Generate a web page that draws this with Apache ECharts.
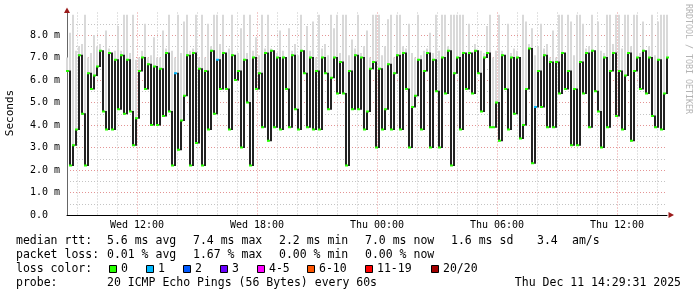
<!DOCTYPE html>
<html><head><meta charset="utf-8">
<script src="https://cdn.jsdelivr.net/npm/echarts@6/dist/echarts.min.js"></script>
<style>html,body{margin:0;padding:0;background:#fff}#c{width:697px;height:297px}</style>
</head><body><div id="c"></div>
<script>
// ---- data ----
const xTickLabels = ['Wed 12:00', 'Wed 18:00', 'Thu 00:00', 'Thu 06:00', 'Thu 12:00'];
const yTickLabels = ['0.0  ', '1.0 m', '2.0 m', '3.0 m', '4.0 m', '5.0 m', '6.0 m', '7.0 m', '8.0 m'];
const stepMinutes = 9;           // one sample per 9 minutes, starting Wed 08:30
const startMinute = 8 * 60 + 30;
const spanMinutes = 1800;        // Wed 08:30 .. Thu 14:30

const median = [
  6.4, 2.2, 3.1, 3.8, 7.1, 4.5, 2.2, 6.3, 5.6, 6.2,
  6.6, 7.3, 4.6, 3.8, 7.2, 3.8, 6.9, 4.7, 7.1, 4.5,
  6.9, 4.6, 3.1, 4.3, 6.4, 7.0, 5.6, 6.7, 4.0, 6.6,
  4.0, 6.5, 4.4, 7.2, 4.6, 2.2, 6.3, 2.9, 4.2, 5.3,
  7.1, 2.2, 7.2, 3.2, 6.5, 2.2, 6.4, 3.8, 7.3, 4.5,
  6.9, 5.6, 7.2, 5.6, 3.8, 7.1, 6.0, 6.4, 3.0, 6.9,
  5.0, 2.2, 7.0, 5.6, 6.3, 3.9, 7.2, 3.3, 7.3, 3.9,
  7.0, 3.8, 7.0, 5.6, 3.9, 7.1, 4.7, 3.8, 7.3, 6.3,
  3.9, 7.0, 3.8, 6.4, 3.8, 7.0, 6.3, 4.7, 6.1, 7.0,
  5.4, 6.8, 5.4, 2.2, 6.4, 4.7, 7.1, 4.7, 7.0, 3.8,
  4.6, 6.5, 6.8, 3.0, 6.5, 3.8, 4.7, 6.7, 3.8, 6.3,
  7.1, 3.8, 7.2, 5.6, 3.0, 4.8, 5.3, 6.9, 3.8, 6.4,
  7.2, 3.0, 6.9, 5.5, 3.0, 7.0, 5.4, 7.3, 2.2, 6.3,
  7.0, 3.8, 7.2, 5.6, 7.2, 5.4, 7.3, 6.3, 4.6, 7.0,
  7.2, 3.9, 3.9, 5.0, 3.3, 7.1, 5.6, 3.8, 7.0, 4.5,
  7.0, 3.4, 4.0, 5.6, 7.4, 2.3, 4.8, 6.4, 4.8, 7.1,
  3.9, 6.8, 3.9, 6.8, 5.4, 7.2, 5.6, 6.4, 3.1, 5.6,
  3.1, 6.8, 5.4, 7.2, 3.9, 7.3, 5.5, 4.6, 3.0, 7.0,
  3.9, 6.4, 7.2, 4.4, 6.4, 3.8, 6.2, 7.2, 3.3, 6.4,
  7.0, 5.6, 7.3, 5.4, 7.0, 4.4, 3.9, 6.9, 3.8, 5.4,
  7.0
];

const smokeMax = [
  7.0, 8.1, 8.9, 7.3, 7.5, 7.6, 8.9, 7.0, 7.2, 8.0,
  7.5, 7.6, 7.0, 8.2, 7.4, 7.2, 7.3, 8.4, 7.3, 8.9,
  8.9, 7.2, 8.9, 6.9, 7.0, 7.3, 8.5, 7.0, 7.1, 7.9,
  7.0, 7.0, 8.2, 7.4, 8.9, 7.3, 7.0, 8.9, 7.2, 8.6,
  8.9, 7.3, 7.4, 8.9, 7.0, 8.9, 7.0, 8.5, 7.5, 8.9,
  8.9, 7.6, 8.9, 7.2, 7.4, 8.9, 7.0, 7.2, 8.3, 8.9,
  7.2, 8.9, 7.3, 7.9, 7.1, 8.9, 7.4, 8.9, 7.4, 7.1,
  7.2, 8.2, 7.3, 7.0, 8.3, 7.3, 7.6, 7.1, 8.9, 7.2,
  8.4, 7.3, 8.6, 7.0, 8.9, 7.4, 7.6, 7.1, 8.9, 8.3,
  8.9, 7.2, 8.9, 8.9, 7.1, 7.8, 7.4, 8.9, 7.2, 7.5,
  8.2, 7.0, 8.9, 8.9, 8.9, 7.1, 7.5, 8.7, 8.9, 7.0,
  8.9, 8.9, 7.5, 7.4, 8.5, 7.2, 7.0, 8.9, 7.1, 7.3,
  7.4, 8.1, 7.2, 8.9, 7.3, 8.9, 8.9, 7.5, 8.9, 8.9,
  8.9, 8.9, 8.9, 7.2, 8.5, 7.1, 7.6, 7.0, 7.3, 7.2,
  8.4, 8.9, 7.0, 7.3, 8.9, 7.3, 7.0, 8.5, 7.2, 7.4,
  7.3, 7.0, 8.9, 8.6, 7.6, 8.3, 7.1, 7.5, 8.5, 7.4,
  7.6, 7.0, 8.2, 7.0, 8.9, 8.9, 7.0, 8.9, 8.6, 7.1,
  8.9, 8.9, 8.5, 7.4, 7.5, 8.9, 7.0, 8.6, 7.3, 7.2,
  8.9, 8.9, 7.6, 8.9, 8.9, 7.4, 8.9, 8.9, 7.5, 8.9,
  8.9, 7.2, 8.6, 7.0, 7.5, 8.9, 7.1, 8.6, 8.9, 8.9,
  8.9
];

const loss1Points = [36, 50, 156];

const statsRow1 = [['median rtt:', 16], ['5.6 ms avg', 107], ['7.4 ms max', 193], ['2.2 ms min', 279], ['7.0 ms now', 365], ['1.6 ms sd', 451], ['3.4', 537], ['am/s', 572]];
const statsRow2 = [['packet loss:', 16], ['0.01 % avg', 107], ['1.67 % max', 193], ['0.00 % min', 279], ['0.00 % now', 365]];
const lossLabels = ['0', '1', '2', '3', '4-5', '6-10', '11-19', '20/20'];
const lossColors = ['#26ff00', '#00b8ff', '#0059ff', '#6a00ff', '#ff00ff', '#ff5500', '#ff0000', '#a10000'];
const lossBoxX = [109, 146, 183, 220, 257, 307, 365, 431];
const probeText = '20 ICMP Echo Pings (56 Bytes) every 60s';
const dateText = 'Thu Dec 11 14:29:31 2025';

// ---- build ----
const FONT = "'DejaVu Sans Mono', monospace";
const gridCats = [];
for (let m = startMinute; m <= startMinute + spanMinutes; m += 30) {
  const day = m >= 1440 ? 'Thu' : 'Wed';
  const mm = m % 1440;
  const hh = String(Math.floor(mm / 60)).padStart(2, '0');
  const mi = String(mm % 60).padStart(2, '0');
  gridCats.push(day + ' ' + hh + ':' + mi);
}
const isMajor = (i, v) => xTickLabels.indexOf(v) >= 0;
const isMinor = (i, v) => v.endsWith(':00') && xTickLabels.indexOf(v) < 0;

const pts = median.map((m, i) => [i * stepMinutes, m, smokeMax[i], i > 0 ? median[i - 1] : m]);

const graphic = [];
graphic.push({ type: 'polygon', shape: { points: [[67, 7.5], [64, 13], [70, 13]] }, style: { fill: '#9b1b1b' }, z: 10 });
graphic.push({ type: 'polygon', shape: { points: [[674, 215], [668.5, 212], [668.5, 218]] }, style: { fill: '#9b1b1b' }, z: 10 });
graphic.push({ type: 'text', x: 10, y: 113, rotation: Math.PI / 2,
  style: { text: 'Seconds', font: "11px " + FONT, fill: '#000', textAlign: 'center', textVerticalAlign: 'middle' } });
graphic.push({ type: 'text', x: 688, y: 4, rotation: -Math.PI / 2,
  style: { text: 'RRDTOOL / TOBI OETIKER', font: "8.3px " + FONT, fill: '#b4b4b4', textAlign: 'left', textVerticalAlign: 'middle' } });
const legFont = "11.5px " + FONT;
statsRow1.forEach(([t, x]) => graphic.push({ type: 'text', x: x, y: 241, style: { text: t, font: legFont, fill: '#000', textVerticalAlign: 'middle' } }));
statsRow2.forEach(([t, x]) => graphic.push({ type: 'text', x: x, y: 255, style: { text: t, font: legFont, fill: '#000', textVerticalAlign: 'middle' } }));
graphic.push({ type: 'text', x: 16, y: 269, style: { text: 'loss color:', font: legFont, fill: '#000', textVerticalAlign: 'middle' } });
lossLabels.forEach((lab, k) => {
  graphic.push({ type: 'rect', shape: { x: lossBoxX[k] + 0.5, y: 265.5, width: 7, height: 7 }, style: { fill: lossColors[k], stroke: '#000', lineWidth: 1 } });
  graphic.push({ type: 'text', x: lossBoxX[k] + 12, y: 269, style: { text: lab, font: legFont, fill: '#000', textVerticalAlign: 'middle' } });
});
graphic.push({ type: 'text', x: 16, y: 283, style: { text: 'probe:', font: legFont, fill: '#000', textVerticalAlign: 'middle' } });
graphic.push({ type: 'text', x: 107, y: 283, style: { text: probeText, font: legFont, fill: '#000', textVerticalAlign: 'middle' } });
graphic.push({ type: 'text', x: 681, y: 283, style: { text: dateText, font: legFont, fill: '#000', textAlign: 'right', textVerticalAlign: 'middle' } });

const chart = echarts.init(document.getElementById('c'), null, { renderer: 'canvas' });
chart.setOption({
  animation: false,
  backgroundColor: '#fff',
  grid: { left: 67, right: 30, top: 12.5, bottom: 82, containLabel: false },
  xAxis: [
    { type: 'value', min: 0, max: spanMinutes, show: false },
    { type: 'category', data: gridCats, boundaryGap: false, position: 'bottom',
      axisLine: { show: false }, axisTick: { show: false }, axisLabel: { show: false },
      splitLine: { show: true, interval: isMinor, lineStyle: { color: '#c4c4c4', type: [1, 2], width: 1 } } },
    { type: 'category', data: gridCats, boundaryGap: false, position: 'bottom',
      axisLine: { show: true, lineStyle: { color: '#000', width: 1 } }, axisTick: { show: false },
      axisLabel: { show: true, interval: isMajor, margin: 5, color: '#000', fontFamily: FONT, fontSize: 10 },
      splitLine: { show: true, interval: isMajor, lineStyle: { color: '#e49494', type: [1, 2], width: 1 } } }
  ],
  yAxis: [{
    type: 'value', min: 0, max: 9, interval: 1,
    axisLine: { show: true, lineStyle: { color: '#666', width: 1 } },
    axisTick: { show: false },
    axisLabel: { margin: 7, color: '#000', fontFamily: FONT, fontSize: 10, showMaxLabel: false,
      formatter: v => (yTickLabels[Math.round(v)] || '') },
    splitLine: { show: true, showMaxLine: false, showMinLine: false, lineStyle: { color: '#e49494', type: [1, 2], width: 1 } },
    minorTick: { show: false, splitNumber: 2 },
    minorSplitLine: { show: true, lineStyle: { color: '#c4c4c4', type: [1, 2], width: 1 } }
  }],
  series: [
    { // light smoke above the median
      type: 'custom', xAxisIndex: 0, yAxisIndex: 0, z: 1, data: pts,
      renderItem: (params, api) => {
        const x = api.value(0);
        const lo = api.coord([x, api.value(1)]);
        const hi = api.coord([x, api.value(2)]);
        return { type: 'rect', shape: { x: lo[0] - 1, y: hi[1], width: 2, height: lo[1] - hi[1] }, style: { fill: '#d9d9d9' } };
      } },
    { // dark transition bar from previous median to current median
      type: 'custom', xAxisIndex: 0, yAxisIndex: 0, z: 2, data: pts,
      renderItem: (params, api) => {
        const x = api.value(0);
        const cur = api.coord([x, api.value(1)]);
        const prev = api.coord([x, api.value(3)]);
        const top = Math.min(cur[1], prev[1]);
        const h = Math.abs(cur[1] - prev[1]);
        return { type: 'rect', shape: { x: cur[0] - 1, y: top - 0.5, width: 2, height: h + 1 }, style: { fill: '#222' } };
      } },
    { // median marks coloured by loss
      type: 'custom', xAxisIndex: 0, yAxisIndex: 0, z: 3, data: pts,
      renderItem: (params, api) => {
        const x = api.value(0);
        const cur = api.coord([x, api.value(1)]);
        const c = loss1Points.indexOf(params.dataIndex) >= 0 ? lossColors[1] : lossColors[0];
        return { type: 'rect', shape: { x: cur[0] - 1, y: cur[1] - 1, width: 3, height: 2 }, style: { fill: c } };
      } }
  ],
  graphic: graphic
});
</script></body></html>
